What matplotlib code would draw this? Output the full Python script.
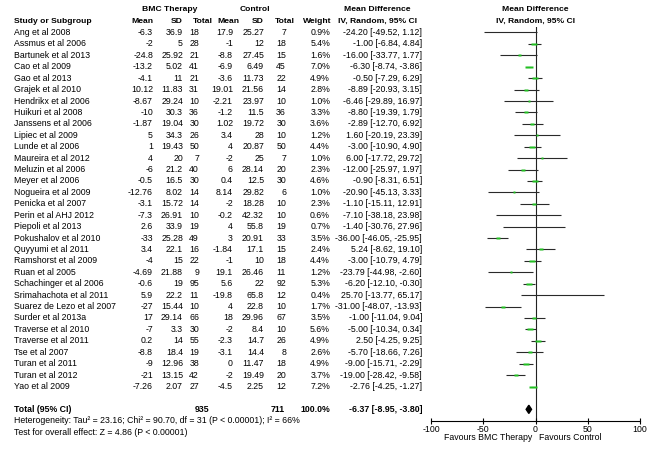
import matplotlib
matplotlib.use('Agg')
import matplotlib.pyplot as plt
from matplotlib.transforms import blended_transform_factory
import numpy as np

plt.rcParams['font.family'] = ['Liberation Sans', 'DejaVu Sans']
plt.rcParams['axes.unicode_minus'] = False

# Studies of BMC therapy vs control (mean difference, random effects)
studies = ['Ang et al 2008', 'Assmus et al 2006', 'Bartunek et al 2013', 'Cao et al 2009',
           'Gao et al 2013', 'Grajek et al 2010', 'Hendrikx et al 2006', 'Huikuri et al 2008',
           'Janssens et al 2006', 'Lipiec et al 2009', 'Lunde et al 2006', 'Maureira et al 2012',
           'Meluzin et al 2006', 'Meyer et al 2006', 'Nogueira et al 2009', 'Penicka et al 2007',
           'Perin et al AHJ 2012', 'Piepoli et al 2013', 'Pokushalov et al 2010', 'Quyyumi et al 2011',
           'Ramshorst et al 2009', 'Ruan et al 2005', 'Schachinger et al 2006', 'Srimahachota et al 2011',
           'Suarez de Lezo et al 2007', 'Surder et al 2013a', 'Traverse et al 2010', 'Traverse et al 2011',
           'Tse et al 2007', 'Turan et al 2011', 'Turan et al 2012', 'Yao et al 2009']

bmc_mean = [-6.3, -2, -24.8, -13.2, -4.1, 10.12, -8.67, -10, -1.87, 5, 1, 4, -6, -0.5, -12.76, -3.1,
            -7.3, 2.6, -33, 3.4, -4, -4.69, -0.6, 5.9, -27, 17, -7, 0.2, -8.8, -9, -21, -7.26]
bmc_sd = [36.9, 5, 25.92, 5.02, 11, 11.83, 29.24, 30.3, 19.04, 34.3, 19.43, 20, 21.2, 16.5, 8.02, 15.72,
          26.91, 33.9, 25.28, 22.1, 15, 21.88, 19, 22.2, 15.44, 29.14, 3.3, 14, 18.4, 12.96, 13.15, 2.07]
bmc_n = [18, 28, 21, 41, 21, 31, 10, 36, 30, 26, 50, 7, 40, 30, 14, 14,
         10, 19, 49, 16, 22, 9, 95, 11, 10, 66, 30, 55, 19, 38, 42, 27]

ctl_mean = [17.9, -1, -8.8, -6.9, -3.6, 19.01, -2.21, -1.2, 1.02, 3.4, 4, -2, 6, 0.4, 8.14, -2,
            -0.2, 4, 3, -1.84, -1, 19.1, 5.6, -19.8, 4, 18, -2, -2.3, -3.1, 0, -2, -4.5]
ctl_sd = [25.27, 12, 27.45, 6.49, 11.73, 21.56, 23.97, 11.5, 19.72, 28, 20.87, 25, 28.14, 12.5, 29.82, 18.28,
          42.32, 55.8, 20.91, 17.1, 10, 26.46, 22, 65.8, 22.8, 29.96, 8.4, 14.7, 14.4, 11.47, 19.49, 2.25]
ctl_n = [7, 18, 15, 45, 22, 14, 10, 36, 30, 10, 50, 7, 20, 30, 6, 10,
         10, 19, 33, 15, 18, 11, 92, 12, 10, 67, 10, 26, 8, 18, 20, 12]

weight = [0.9, 5.4, 1.6, 7.0, 4.9, 2.8, 1.0, 3.3, 3.6, 1.2, 4.4, 1.0, 2.3, 4.6, 1.0, 2.3,
          0.6, 0.7, 3.5, 2.4, 4.4, 1.2, 5.3, 0.4, 1.7, 3.5, 5.6, 4.9, 2.6, 4.9, 3.7, 7.2]
md = [-24.20, -1.00, -16.00, -6.30, -0.50, -8.89, -6.46, -8.80, -2.89, 1.60, -3.00, 6.00, -12.00, -0.90,
      -20.90, -1.10, -7.10, -1.40, -36.00, 5.24, -3.00, -23.79, -6.20, 25.70, -31.00, -1.00, -5.00, 2.50,
      -5.70, -9.00, -19.00, -2.76]
ci_lo = [-49.52, -6.84, -33.77, -8.74, -7.29, -20.93, -29.89, -19.39, -12.70, -20.19, -10.90, -17.72,
         -25.97, -8.31, -45.13, -15.11, -38.18, -30.76, -46.05, -8.62, -10.79, -44.98, -12.10, -13.77,
         -48.07, -11.04, -10.34, -4.25, -18.66, -15.71, -28.42, -4.25]
ci_hi = [1.12, 4.84, 1.77, -3.86, 6.29, 3.15, 16.97, 1.79, 6.92, 23.39, 4.90, 29.72, 1.97, 6.51, 3.33,
         12.91, 23.98, 27.96, -25.95, 19.10, 4.79, -2.60, -0.30, 65.17, -13.93, 9.04, 0.34, 9.25, 7.26,
         -2.29, -9.58, -1.27]

total_bmc = 935
total_ctl = 711
total_weight = 100.0
total_md, total_lo, total_hi = -6.37, -8.95, -3.80
heterogeneity = 'Heterogeneity: Tau² = 23.16; Chi² = 90.70, df = 31 (P < 0.00001); I² = 66%'
overall = 'Test for overall effect: Z = 4.86 (P < 0.00001)'

W, H = 654, 449
fig = plt.figure(figsize=(W / 100, H / 100), dpi=100)
ax = fig.add_axes([431 / W, 1 - 421 / H, 209 / W, 394 / H])

rows = np.arange(len(studies))
total_row = len(studies) + 1

# forest part
ax.axvline(0, color='#222222', lw=0.8, zorder=1)
ax.hlines(rows, ci_lo, ci_hi, color='#2a2a2a', lw=0.8, zorder=2)
rect = [(-1, -0.4), (1, -0.4), (1, 0.4), (-1, 0.4), (-1, -0.4)]
for r, m, w in zip(rows, md, weight):
    ax.plot(m, r, marker=rect, ms=(1.8 + 0.75 * w) * 0.72, color='#22c022', mec='none', zorder=3)
ax.fill([total_lo, total_md, total_hi, total_md],
        [total_row, total_row - 0.36, total_row, total_row + 0.36], color='black', zorder=3)

ax.set_xlim(-100, 100)
ax.set_ylim(34.02, -0.48)
for s in ['top', 'left', 'right']:
    ax.spines[s].set_visible(False)
ax.spines['bottom'].set_linewidth(0.8)
ax.set_yticks([])
ax.set_xticks([-100, -50, 0, 50, 100])
ax.tick_params(axis='x', direction='inout', length=5, width=0.8, pad=0.5, labelsize=6.3)
ax.text(-3, 35.5, 'Favours BMC Therapy', ha='right', va='center', fontsize=6.3, clip_on=False)
ax.text(3, 35.5, 'Favours Control', ha='left', va='center', fontsize=6.3, clip_on=False)

# table part
tr = blended_transform_factory(fig.transFigure, ax.transData)


def put(xpx, row, s, ha='right', bold=False, size=6.3):
    ax.text(xpx / W, row, s, transform=tr, ha=ha, va='center', fontsize=size,
            fontweight='bold' if bold else 'normal', clip_on=False)


hs = 6.1
put(170, -2, 'BMC Therapy', 'center', True, hs)
put(255, -2, 'Control', 'center', True, hs)
put(377, -2, 'Mean Difference', 'center', True, hs)
put(535, -2, 'Mean Difference', 'center', True, hs)
put(14, -1, 'Study or Subgroup', 'left', True, hs)
put(153, -1, 'Mean', bold=True, size=hs)
put(183, -1, 'SD', bold=True, size=hs)
put(213, -1, 'Total', bold=True, size=hs)
put(239, -1, 'Mean', bold=True, size=hs)
put(264, -1, 'SD', bold=True, size=hs)
put(295, -1, 'Total', bold=True, size=hs)
put(331, -1, 'Weight', bold=True, size=hs)
put(377, -1, 'IV, Random, 95% CI', 'center', True, hs)
put(535, -1, 'IV, Random, 95% CI', 'center', True, hs)

for i in rows:
    put(14, i, studies[i], 'left')
    put(153, i, f'{bmc_mean[i]:g}')
    put(183, i, f'{bmc_sd[i]:g}')
    put(199, i, f'{bmc_n[i]}')
    put(233, i, f'{ctl_mean[i]:g}')
    put(264, i, f'{ctl_sd[i]:g}')
    put(286, i, f'{ctl_n[i]}')
    put(330, i, f'{weight[i]:.1f}%')
    put(422, i, f'{md[i]:.2f} [{ci_lo[i]:.2f}, {ci_hi[i]:.2f}]')

put(14, total_row, 'Total (95% CI)', 'left', True)
put(209, total_row, f'{total_bmc}', bold=True)
put(285, total_row, f'{total_ctl}', bold=True)
put(330, total_row, f'{total_weight:.1f}%', bold=True)
put(422, total_row, f'{total_md:.2f} [{total_lo:.2f}, {total_hi:.2f}]', bold=True)
put(14, total_row + 1, heterogeneity, 'left')
put(14, total_row + 2, overall, 'left')

fig.savefig('out.png', dpi=100)
